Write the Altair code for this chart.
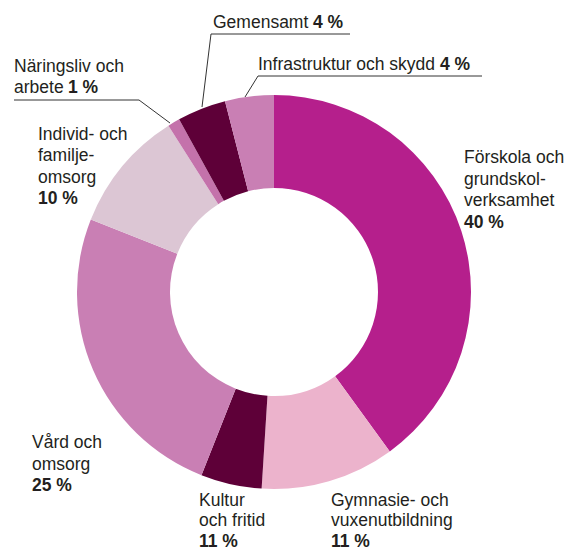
import altair as alt
import pandas as pd

# ---- data ----
categories = [
    "Förskola och grundskolverksamhet",
    "Gymnasie- och vuxenutbildning",
    "Kultur och fritid",
    "Vård och omsorg",
    "Individ- och familjeomsorg",
    "Näringsliv och arbete",
    "Gemensamt",
    "Infrastruktur och skydd",
]
shares = [40, 11, 5, 25, 10, 1, 4, 4]  # slice sizes as drawn
colors = ["#b51f8c", "#ecb3cc", "#5e0038", "#c97fb4", "#dcc6d4", "#c472ab", "#5e0038", "#c97fb4"]

# label text (as printed)
label_normal = [
    ["Förskola och", "grundskol-", "verksamhet"],
    ["Gymnasie- och", "vuxenutbildning"],
    ["Kultur", "och fritid"],
    ["Vård och", "omsorg"],
    ["Individ- och", "familje-", "omsorg"],
    ["Näringsliv och", "arbete"],
    ["Gemensamt"],
    ["Infrastruktur och skydd"],
]
label_pct = ["40 %", "11 %", "11 %", "25 %", "10 %", "1 %", "4 %", "4 %"]

# ---- layout (page pixels) ----
OFF = 8
W, H = 575 - 2 * OFF, 559 - 2 * OFF
CX, CY = 274, 292
R_OUT, R_IN = 197, 104
FS = 17.5
# (x, first baseline, line step, pct on same line?, x of pct if inline)
label_pos = [
    (464, 163, 21.7, False, None),
    (331, 506, 20.3, False, None),
    (199, 506, 20.3, False, None),
    (32, 448, 21.5, False, None),
    (38, 140, 21.3, False, None),
    (14, 72, 20.5, True, 68),
    (213, 28, 0, True, 313),
    (258, 70, 0, True, 440),
]
leaders = [
    [(14, 100), (139, 100), (170, 123)],
    [(202, 107), (211, 34), (350, 34)],
    [(245, 97), (258, 76), (482, 76)],
]

df = pd.DataFrame({"cat": categories, "share": shares, "order": list(range(len(categories)))})

rows_n, rows_b = [], []
for lines, pct, (x, y0, step, inline, xp) in zip(label_normal, label_pct, label_pos):
    for i, t in enumerate(lines):
        rows_n.append({"t": t, "x": x - OFF, "y": y0 + i * step - OFF})
    if inline:
        rows_b.append({"t": pct, "x": xp - OFF, "y": y0 + (len(lines) - 1) * step - OFF})
    else:
        rows_b.append({"t": pct, "x": x - OFF, "y": y0 + len(lines) * step - OFF})
df_n = pd.DataFrame(rows_n)
df_b = pd.DataFrame(rows_b)

rows_l = []
for g, pts in enumerate(leaders):
    for k, (x, y) in enumerate(pts):
        rows_l.append({"g": g, "k": k, "x": x - OFF, "y": y - OFF})
df_l = pd.DataFrame(rows_l)

donut = alt.Chart(df).mark_arc(innerRadius=R_IN, outerRadius=R_OUT).encode(
    theta=alt.Theta("share:Q", stack=True),
    order=alt.Order("order:Q"),
    color=alt.Color("cat:N", scale=alt.Scale(domain=categories, range=colors), legend=None),
    x=alt.value(CX - OFF),
    y=alt.value(CY - OFF),
)

lines = alt.Chart(df_l).mark_line(color="#333333", strokeWidth=1).encode(
    x=alt.X("x:Q", scale=None, axis=None),
    y=alt.Y("y:Q", scale=None, axis=None),
    detail="g:N",
    order="k:Q",
)

txt_n = alt.Chart(df_n).mark_text(
    align="left", baseline="alphabetic", font="Liberation Sans", fontSize=FS, color="#231f20"
).encode(x=alt.X("x:Q", scale=None), y=alt.Y("y:Q", scale=None), text="t:N")

txt_b = alt.Chart(df_b).mark_text(
    align="left", baseline="alphabetic", font="Liberation Sans", fontSize=FS, fontWeight="bold", color="#231f20"
).encode(x=alt.X("x:Q", scale=None), y=alt.Y("y:Q", scale=None), text="t:N")

chart = alt.layer(donut, lines, txt_n, txt_b).properties(
    width=W, height=H, autosize=alt.AutoSizeParams(type="none"), padding=0
).configure_view(stroke=None)

chart.save("out.html", embed_options={"renderer": "svg", "actions": False})
